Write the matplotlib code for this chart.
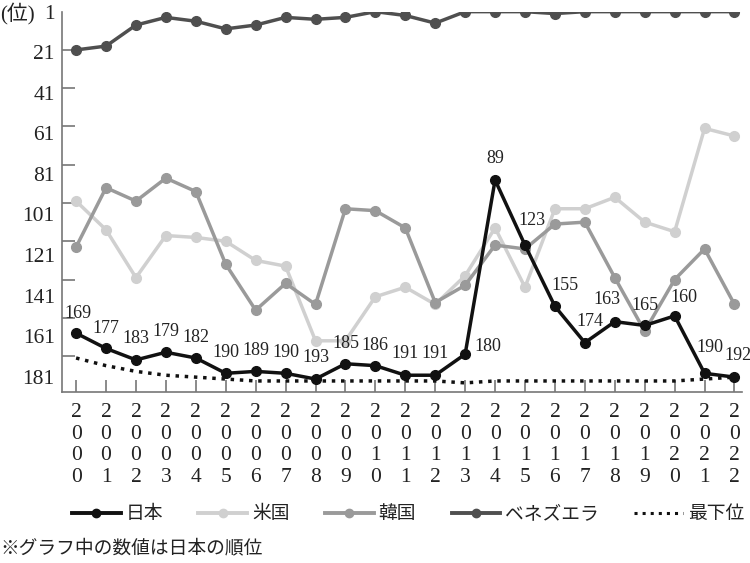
import numpy as np
import matplotlib.pyplot as plt
from matplotlib.lines import Line2D

plt.rcParams['font.family'] = ['Liberation Serif', 'Noto Sans CJK JP']

years = list(range(2000, 2023))
japan = [169, 177, 183, 179, 182, 190, 189, 190, 193, 185, 186, 191, 191,
         180, 89, 123, 155, 174, 163, 165, 160, 190, 192]
usa = [100, 115, 140, 118, 119, 121, 131, 134, 173, 173, 150, 145, 154,
       139, 114, 145, 104, 104, 98, 111, 116, 62, 66]
korea = [124, 93, 100, 88, 95, 133, 157, 143, 154, 104, 105, 114, 153,
         144, 123, 125, 112, 111, 140, 168, 141, 125, 154]
venezuela = [21, 19, 8, 4, 6, 10, 8, 4, 5, 4, 1, 3, 7,
             1, 1, 1, 2, 1, 1, 1, 1, 1, 1]
lowest = [182, 186, 189, 191, 192, 193, 194, 194, 194, 194, 194, 194, 194,
          195, 194, 194, 194, 194, 194, 194, 194, 193, 192]
yticks = [1, 21, 41, 61, 81, 101, 121, 141, 161, 181]

# label offsets (pixels) for the Japan values
label_off = [(2, 20), (0, 20), (0, 21), (0, 21), (0, 21), (0, 21), (0, 21), (0, 21),
             (0, 22), (0, 20), (0, 20), (0, 22), (0, 22), (23, 8), (0, 22), (7, 25),
             (10, 21), (5, 21), (-8, 22), (0, 20), (9, 18), (5, 26), (3, 22)]

fig = plt.figure(figsize=(7.5, 5.63), dpi=100)
ax = fig.add_axes([0.0823, 0.3043, 0.907, 0.675])

c_jp, c_us, c_kr, c_ve = '#111111', '#d0d0d0', '#9a9a9a', '#4f4f4f'
lw, ms = 2.5, 7
ax.plot(years, lowest, ':', color='#111111', lw=2.5, zorder=2)
ax.plot(years, usa, '-o', color=c_us, lw=lw, ms=ms, zorder=3)
ax.plot(years, korea, '-o', color=c_kr, lw=lw, ms=ms, zorder=4)
ax.plot(years, venezuela, '-o', color=c_ve, lw=lw, ms=ms, zorder=4)
ax.plot(years, japan, '-o', color=c_jp, lw=lw, ms=ms, zorder=5)

for x, v, (dx, dy) in zip(years, japan, label_off):
    ax.annotate(str(v), (x, v), xytext=(dx, dy), textcoords='offset pixels',
                ha='center', va='center', fontsize=13, color='#222222',
                family='Liberation Serif', zorder=6)

ax.set_xlim(1999.52, 2022.25)
ax.set_ylim(199.6, 1)

# tick marks at the ranks, labels drift slightly below as in the original
ax.set_yticks(yticks, minor=True)
ax.set_yticks([t + (t - 1) * 0.06 for t in yticks], [str(t) for t in yticks])
ax.tick_params(axis='y', which='major', length=0, pad=5, labelsize=15.5, labelcolor='#222222')
ax.tick_params(axis='y', which='minor', direction='in', length=9, width=1.2, color='#777777')

ax.set_xticks(years, ['\n'.join(str(y)) for y in years])
ax.tick_params(axis='x', direction='in', length=9, width=1.2, color='#777777',
               labelsize=15.5, labelcolor='#222222', pad=8)
for lab in ax.get_xticklabels():
    lab.set_linespacing(1.2)

for s in ['top', 'right']:
    ax.spines[s].set_visible(False)
for s in ['left', 'bottom']:
    ax.spines[s].set_color('#777777')
    ax.spines[s].set_linewidth(1.2)

fig.text(0.0, 1 - 13 / 563, '(位)', fontsize=15, va='center', ha='left',
         family=['Liberation Serif', 'Noto Sans CJK JP'], color='#222222')

handles = [
    Line2D([], [], color=c_jp, lw=2.8, marker='o', ms=6, markevery=[1]),
    Line2D([], [], color=c_us, lw=2.8, marker='o', ms=6, markevery=[1]),
    Line2D([], [], color=c_kr, lw=2.8, marker='o', ms=6, markevery=[1]),
    Line2D([], [], color=c_ve, lw=2.8, marker='o', ms=6, markevery=[1]),
    Line2D([], [], color='#111111', lw=2.2, ls=':'),
]
names = ['日本', '米国', '韓国', 'ベネズエラ', '最下位']
leg = fig.legend(handles, names, loc='center', bbox_to_anchor=(408 / 750, 1 - 514 / 563),
                 ncol=5, frameon=False, handlelength=2.6, handletextpad=0.25,
                 columnspacing=1.9, prop={'family': 'Noto Sans CJK JP', 'size': 13.5})
for t in leg.get_texts():
    t.set_color('#222222')

fig.text(0.0, 1 - 548 / 563, '※グラフ中の数値は日本の順位', fontsize=13.5, va='center',
         ha='left', family=['Noto Sans CJK JP'], color='#222222')

fig.savefig('out.png', dpi=100)
